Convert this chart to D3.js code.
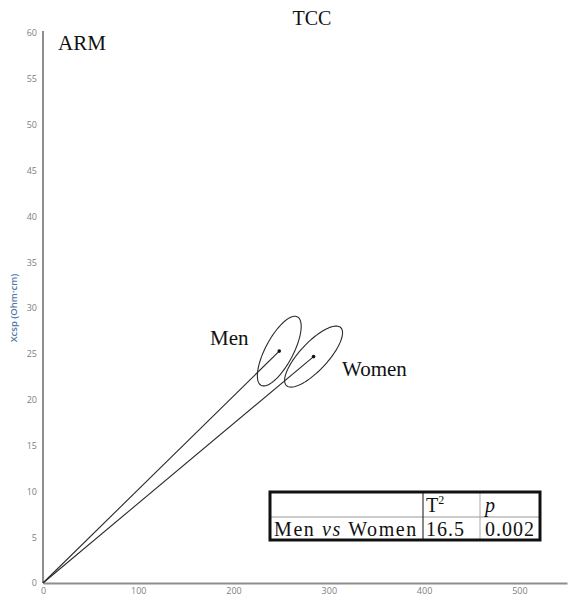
<!DOCTYPE html>
<html>
<head>
<meta charset="utf-8">
<script src="https://cdn.jsdelivr.net/npm/d3@7"></script>
<style>
  html, body { margin: 0; padding: 0; background: #fff; }
  svg { display: block; }
</style>
</head>
<body>
<svg id="chart" width="570" height="603"></svg>
<script>
// Group centroids (R/H vs Xc/H) with their confidence ellipses
const groups = ["Men", "Women"];
const meanR = [248, 284];      // Rsp (Ohm·cm)
const meanXc = [25.3, 24.7];   // Xcsp (Ohm·cm)
const sdR = [23, 30.4];        // ellipse half-width along R
const sdXc = [3.8, 3.33];      // ellipse half-height along Xc
const corr = [0.71, 0.78];     // R–Xc correlation

const xTicks = [0, 100, 200, 300, 400, 500];
const yTicks = [0, 5, 10, 15, 20, 25, 30, 35, 40, 45, 50, 55, 60];

// Hotelling test summary
const testLabel = "Men vs Women";
const t2Value = "16.5";
const pValue = "0.002";

const svg = d3.select("#chart");
const x = d3.scaleLinear().domain([0, 550]).range([43, 567]);
const y = d3.scaleLinear().domain([0, 60]).range([583, 33]);

const axisColor = "#8d8d8d";
const tickColor = "#808080";

// Axes
const gx = svg.append("g").attr("transform", `translate(0,${y(0)})`)
  .call(d3.axisBottom(x).tickValues(xTicks).tickSize(0).tickPadding(5).tickFormat(d3.format("d")));
const gy = svg.append("g").attr("transform", `translate(${x(0)},0)`)
  .call(d3.axisLeft(y).tickValues(yTicks).tickSize(0).tickPadding(6).tickFormat(d3.format("d")));
[gx, gy].forEach(g => {
  g.select(".domain").attr("stroke", axisColor).attr("stroke-width", 2);
  g.selectAll("text").attr("fill", tickColor)
    .style("font-family", "'Open Sans', sans-serif").style("font-size", "9px");
});
gy.select(".domain").attr("d", `M0,${y(0)}V${y(60) - 2}`);

svg.append("text")
  .attr("transform", `translate(17,${y(30)}) rotate(-90)`)
  .attr("text-anchor", "middle")
  .attr("fill", "#4f77a8")
  .style("font-family", "'Open Sans', sans-serif")
  .style("font-size", "9.5px")
  .style("font-weight", "600")
  .text("Xcsp (Ohm·cm)");

// Titles
const serif = "'Liberation Serif', 'Times New Roman', serif";
svg.append("text").attr("x", 312).attr("y", 25).attr("text-anchor", "middle")
  .style("font-family", serif).style("font-size", "20px").attr("fill", "#111").text("TCC");
svg.append("text").attr("x", 58).attr("y", 50)
  .style("font-family", serif).style("font-size", "21px").attr("fill", "#111").text("ARM");

// Vectors from origin to each centroid
const line = d3.line().x(d => x(d[0])).y(d => y(d[1]));
groups.forEach((g, i) => {
  svg.append("path")
    .attr("d", line([[0, 0], [meanR[i], meanXc[i]]]))
    .attr("fill", "none").attr("stroke", "#2a2a2a").attr("stroke-width", 1.1);
});

// Confidence ellipses
const closed = d3.line().x(d => x(d[0])).y(d => y(d[1])).curve(d3.curveLinearClosed);
groups.forEach((g, i) => {
  const pts = d3.range(0, 360, 3).map(a => {
    const t = a * Math.PI / 180;
    const dx = sdR[i] * Math.cos(t);
    const dy = sdXc[i] * (corr[i] * Math.cos(t) + Math.sqrt(1 - corr[i] * corr[i]) * Math.sin(t));
    return [meanR[i] + dx, meanXc[i] + dy];
  });
  svg.append("path")
    .attr("d", closed(pts))
    .attr("fill", "none").attr("stroke", "#2a2a2a").attr("stroke-width", 1.1);
  svg.append("circle").attr("cx", x(meanR[i])).attr("cy", y(meanXc[i]))
    .attr("r", 1.8).attr("fill", "#111");
});

// Group labels
svg.append("text").attr("x", 210).attr("y", 345)
  .style("font-family", serif).style("font-size", "21px").attr("fill", "#111").text(groups[0]);
svg.append("text").attr("x", 342).attr("y", 376)
  .style("font-family", serif).style("font-size", "21px").attr("fill", "#111").text(groups[1]);

// Statistics table
const tbl = svg.append("g");
const tL = 270, tR = 540, tT = 492, tB = 540, rowY = 517, c1 = 423, c2 = 480;
tbl.append("line").attr("x1", tL).attr("x2", tR).attr("y1", rowY).attr("y2", rowY)
  .attr("stroke", "#999").attr("stroke-width", 1);
tbl.append("line").attr("x1", c1).attr("x2", c1).attr("y1", tT).attr("y2", tB)
  .attr("stroke", "#111").attr("stroke-width", 1);
tbl.append("line").attr("x1", c2).attr("x2", c2).attr("y1", tT).attr("y2", tB)
  .attr("stroke", "#aaa").attr("stroke-width", 1);
tbl.append("rect").attr("x", tL).attr("y", tT).attr("width", tR - tL).attr("height", tB - tT)
  .attr("fill", "none").attr("stroke", "#111").attr("stroke-width", 3);

const cell = (xx, yy) => tbl.append("text").attr("x", xx).attr("y", yy)
  .style("font-family", serif).style("font-size", "20px").attr("fill", "#111");
const head = cell(426, 512);
head.append("tspan").text("T");
head.append("tspan").attr("dy", -8).style("font-size", "12px").text("2");
cell(485, 512).style("font-style", "italic").text("p");

const lab = cell(274, 536).style("letter-spacing", "1.6px");
const parts = testLabel.split(" ");
lab.append("tspan").text(parts[0] + " ");
lab.append("tspan").style("font-style", "italic").text(parts[1]);
lab.append("tspan").text(" " + parts[2]);
cell(426, 536).style("letter-spacing", "1px").text(t2Value);
cell(485, 536).style("letter-spacing", "1px").text(pValue);
</script>
</body>
</html>
